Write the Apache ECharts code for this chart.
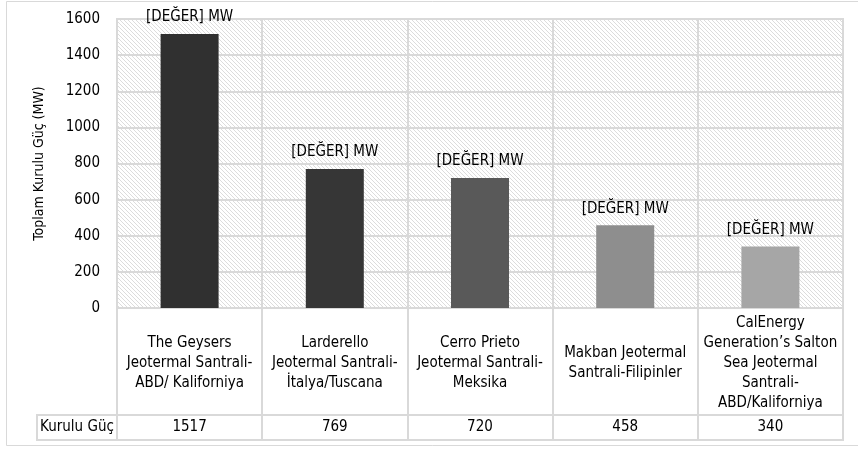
<!DOCTYPE html>
<html>
<head>
<meta charset="utf-8">
<script src="https://cdn.jsdelivr.net/npm/echarts@6/dist/echarts.min.js"></script>
<style>html,body{margin:0;padding:0;background:#fff}#c{width:858px;height:450px}</style>
</head>
<body>
<div id="c"></div>
<script>
var categories = [
  'The Geysers\nJeotermal Santrali-\nABD/ Kaliforniya',
  'Larderello\nJeotermal Santrali-\nİtalya/Tuscana',
  'Cerro Prieto\nJeotermal Santrali-\nMeksika',
  'Makban Jeotermal\nSantrali-Filipinler',
  'CalEnergy\nGeneration’s Salton\nSea Jeotermal\nSantrali-\nABD/Kaliforniya'
];
var values = [1517, 769, 720, 458, 340];
var barColors = ['#303030', '#363636', '#595959', '#8e8e8e', '#a6a6a6'];
var yTicks = [0, 200, 400, 600, 800, 1000, 1200, 1400, 1600];
var rowLabel = 'Kurulu Güç';
var yTitle = 'Toplam Kurulu Güç (MW)';
var valueLabel = '[DEĞER] MW';

var FONT = '"Liberation Sans Narrow", "DejaVu Sans Condensed", sans-serif';
var GRID_C = '#d9d9d9';

// hatch pattern
var pc = document.createElement('canvas');
pc.width = 4; pc.height = 4;
var px = pc.getContext('2d');
px.fillStyle = '#ffffff'; px.fillRect(0, 0, 4, 4);
px.strokeStyle = '#dcdcdc'; px.lineWidth = 1;
px.beginPath();
px.moveTo(-1, -1); px.lineTo(5, 5);
px.moveTo(-1, 3); px.lineTo(1, 5);
px.moveTo(3, -1); px.lineTo(5, 1);
px.stroke();

var chart = echarts.init(document.getElementById('c'), null, {renderer: 'canvas'});
chart.setOption({
  animation: false,
  backgroundColor: '#ffffff',
  textStyle: {fontFamily: FONT},
  graphic: [{
    type: 'rect', shape: {x: 6.5, y: 1.5, width: 860, height: 444},
    style: {fill: 'none', stroke: '#d9d9d9', lineWidth: 1}, silent: true, z: -10
  }],
  grid: [
    {left: 117, right: 15, top: 19, bottom: 142, show: true, backgroundColor: {image: pc, repeat: 'repeat'}, borderColor: GRID_C, borderWidth: 2},
    {left: 117, right: 15, top: 308, height: 107, show: true, borderColor: GRID_C, borderWidth: 2},
    {left: 117, right: 15, top: 415, height: 25, show: true, borderColor: GRID_C, borderWidth: 2},
    {left: 37, width: 80, top: 415, height: 25, show: true, borderColor: GRID_C, borderWidth: 2}
  ],
  xAxis: [
    {gridIndex: 0, type: 'category', data: categories,
     axisLine: {show: true, lineStyle: {color: GRID_C, width: 2}}, axisTick: {show: false},
     splitLine: {show: true, lineStyle: {color: GRID_C, width: 2}},
     axisLabel: {interval: 0, color: '#000', fontSize: 15, lineHeight: 20, verticalAlign: 'middle', margin: 55, fontFamily: FONT}},
    {gridIndex: 1, type: 'category', data: categories,
     axisLine: {show: false}, axisTick: {show: false}, axisLabel: {show: false},
     splitLine: {show: true, lineStyle: {color: GRID_C, width: 2}}},
    {gridIndex: 2, type: 'category', data: values.map(String), position: 'bottom',
     axisLine: {show: false}, axisTick: {show: false},
     splitLine: {show: true, lineStyle: {color: GRID_C, width: 2}},
     axisLabel: {inside: true, interval: 0, verticalAlign: 'middle', margin: 12.5, color: '#000', fontSize: 15, fontFamily: FONT}},
    {gridIndex: 3, type: 'category', data: [''], show: false}
  ],
  yAxis: [
    {gridIndex: 0, type: 'value', min: 0, max: 1600, interval: 200,
     name: yTitle, nameLocation: 'middle', nameGap: 71, nameRotate: 90,
     nameTextStyle: {color: '#000', fontSize: 14, fontFamily: FONT},
     axisLine: {show: false}, axisTick: {show: false},
     splitLine: {show: true, lineStyle: {color: GRID_C, width: 2}},
     axisLabel: {color: '#000', fontSize: 15, margin: 17, fontFamily: FONT,
       formatter: function (v) { return yTicks.indexOf(v) >= 0 ? String(v) : ''; }}},
    {gridIndex: 1, type: 'value', show: false, splitLine: {show: false}},
    {gridIndex: 2, type: 'category', data: [rowLabel],
     axisLine: {show: false}, axisTick: {show: false}, splitLine: {show: false},
     axisLabel: {align: 'center', margin: 40, color: '#000', fontSize: 15, fontFamily: FONT}},
    {gridIndex: 3, type: 'value', show: false, splitLine: {show: false}}
  ],
  series: [{
    type: 'bar', xAxisIndex: 0, yAxisIndex: 0,
    barWidth: 58,
    data: values.map(function (v, i) { return {value: v, itemStyle: {color: barColors[i]}}; }),
    label: {show: true, position: 'top', distance: 9, formatter: valueLabel, color: '#000', fontSize: 15, fontFamily: FONT}
  }]
});
</script>
</body>
</html>
